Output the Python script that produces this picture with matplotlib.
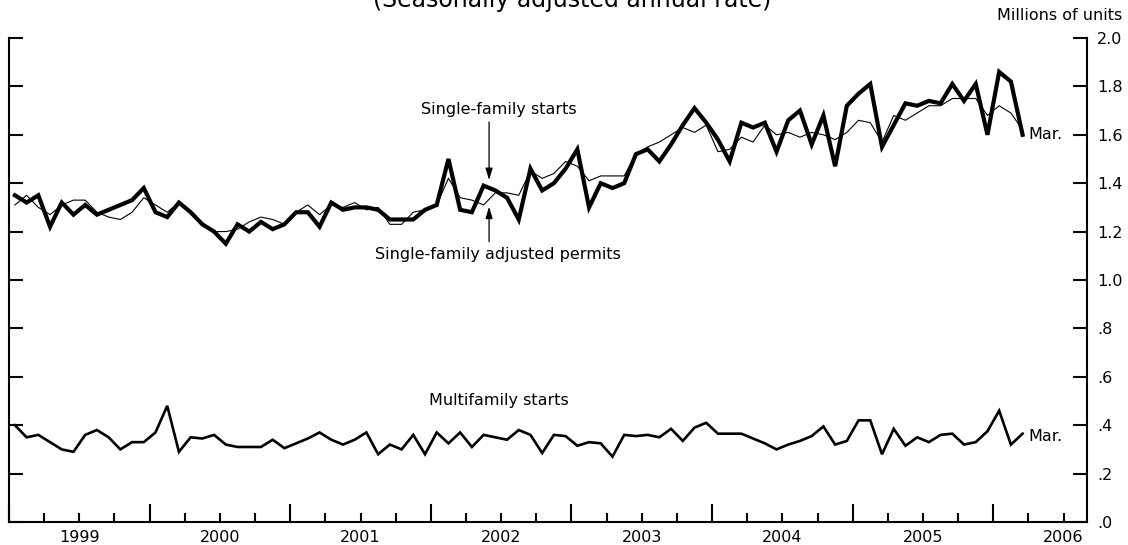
import numpy as np
import matplotlib
matplotlib.use("Agg")
import matplotlib.pyplot as plt

plt.rcParams["font.family"] = ["DejaVu Sans"]

START_YEAR = 1999  # first observation: Jan 1999, monthly through Mar 2006

sf_starts = [
    1.35, 1.32, 1.35, 1.22, 1.32, 1.27, 1.31, 1.27, 1.29, 1.31,
    1.33, 1.38, 1.28, 1.26, 1.32, 1.28, 1.23, 1.20, 1.15, 1.23,
    1.20, 1.24, 1.21, 1.23, 1.28, 1.28, 1.22, 1.32, 1.29, 1.30,
    1.30, 1.29, 1.25, 1.25, 1.25, 1.29, 1.31, 1.50, 1.29, 1.28,
    1.39, 1.37, 1.34, 1.25, 1.46, 1.37, 1.40, 1.46, 1.54, 1.30,
    1.40, 1.38, 1.40, 1.52, 1.54, 1.49, 1.56, 1.64, 1.71, 1.65,
    1.58, 1.49, 1.65, 1.63, 1.65, 1.53, 1.66, 1.70, 1.56, 1.68,
    1.47, 1.72, 1.77, 1.81, 1.55, 1.64, 1.73, 1.72, 1.74, 1.73,
    1.81, 1.74, 1.81, 1.60, 1.86, 1.82, 1.60,
]

sf_permits = [
    1.31, 1.35, 1.30, 1.27, 1.31, 1.33, 1.33, 1.28, 1.26, 1.25,
    1.28, 1.34, 1.31, 1.28, 1.32, 1.28, 1.23, 1.20, 1.20, 1.21,
    1.24, 1.26, 1.25, 1.23, 1.28, 1.31, 1.27, 1.31, 1.30, 1.32,
    1.29, 1.30, 1.23, 1.23, 1.28, 1.29, 1.31, 1.42, 1.34, 1.33,
    1.31, 1.36, 1.36, 1.35, 1.45, 1.42, 1.44, 1.49, 1.47, 1.41,
    1.43, 1.43, 1.43, 1.52, 1.55, 1.57, 1.60, 1.63, 1.61, 1.64,
    1.53, 1.54, 1.59, 1.57, 1.64, 1.60, 1.61, 1.59, 1.61, 1.60,
    1.58, 1.61, 1.66, 1.65, 1.57, 1.68, 1.66, 1.69, 1.72, 1.72,
    1.75, 1.75, 1.75, 1.68, 1.72, 1.69, 1.62,
]

mf_starts = [
    0.40, 0.35, 0.36, 0.33, 0.30, 0.29, 0.36, 0.38, 0.35, 0.30,
    0.33, 0.33, 0.37, 0.48, 0.29, 0.35, 0.345, 0.36, 0.32, 0.31,
    0.31, 0.31, 0.34, 0.305, 0.325, 0.345, 0.37, 0.34, 0.32, 0.34,
    0.37, 0.28, 0.32, 0.30, 0.36, 0.28, 0.37, 0.325, 0.37, 0.31,
    0.36, 0.35, 0.34, 0.38, 0.36, 0.285, 0.36, 0.355, 0.315, 0.33,
    0.325, 0.27, 0.36, 0.355, 0.36, 0.35, 0.385, 0.335, 0.39, 0.41,
    0.365, 0.365, 0.365, 0.345, 0.325, 0.30, 0.32, 0.335, 0.355, 0.395,
    0.32, 0.335, 0.42, 0.42, 0.28, 0.385, 0.315, 0.35, 0.33, 0.36,
    0.365, 0.32, 0.33, 0.375, 0.46, 0.32, 0.365,
]

y_ticks = [0.0, 0.2, 0.4, 0.6, 0.8, 1.0, 1.2, 1.4, 1.6, 1.8, 2.0]
y_labels = [".0", ".2", ".4", ".6", ".8", "1.0", "1.2", "1.4", "1.6", "1.8", "2.0"]
years = list(range(1999, 2007))
X_END = 2006 + 8 / 12  # axis runs to the end of Aug 2006

# monthly points sit in the middle of each month
x = START_YEAR + (np.arange(len(sf_starts)) + 0.5) / 12

fig = plt.figure(figsize=(11.28, 5.45), dpi=100)
ax = fig.add_axes([0.008, 0.0422, 0.9557, 0.8881])

ax.plot(x, sf_permits, color="black", lw=0.8, zorder=3)
ax.plot(x, sf_starts, color="black", lw=3.0, solid_joinstyle="miter", zorder=4)
ax.plot(x, mf_starts, color="black", lw=1.9, solid_joinstyle="miter", zorder=3)

for side in ["left", "right", "bottom"]:
    ax.spines[side].set_linewidth(1.5)
ax.spines["top"].set_visible(False)

# x axis: long ticks at year starts, short ones at quarters, labels mid-year
quarters = [y + q for y in years for q in (0.25, 0.5, 0.75) if y + q < X_END]
q_labels = [str(int(q)) if (q % 1) == 0.5 else "" for q in quarters]
ax.set_xticks(years, labels=[""] * len(years))
ax.set_xticks(quarters, labels=q_labels, minor=True)
ax.tick_params(axis="x", which="major", direction="in", length=13, width=1.5)
ax.tick_params(axis="x", which="minor", direction="in", length=6.5, width=1.5,
               pad=6, labelsize=11.5)

ax.set_yticks(y_ticks, labels=y_labels)
ax.set_yticks([2.0], labels=[""], minor=True)
ax.tick_params(axis="y", which="both", direction="in", left=True, right=True,
               labelleft=False, labelright=True, width=1.5)
ax.tick_params(axis="y", which="major", length=10, pad=7, labelsize=11.5)
ax.tick_params(axis="y", which="minor", length=16)

# limits last, so the tick calls cannot widen them
ax.set_xlim(1999, X_END)
ax.set_ylim(0, 2.0)

arrow = dict(arrowstyle="-|>,head_length=0.5,head_width=0.15", color="black",
             lw=0.9, shrinkA=0, shrinkB=0, mutation_scale=14)
ax.annotate("", xy=(2002.414, 1.413), xytext=(2002.414, 1.653), arrowprops=arrow)
ax.annotate("", xy=(2002.414, 1.303), xytext=(2002.414, 1.158), arrowprops=arrow)
ax.text(2002.485, 1.705, "Single-family starts", ha="center", va="center", fontsize=11.5)
ax.text(2002.474, 1.105, "Single-family adjusted permits", ha="center", va="center",
        fontsize=11.5)
ax.text(2002.485, 0.504, "Multifamily starts", ha="center", va="center", fontsize=11.5)

ax.annotate("Mar.", xy=(x[-1], sf_starts[-1]), xytext=(4, 0), textcoords="offset points",
            ha="left", va="center", fontsize=11.5)
ax.annotate("Mar.", xy=(x[-1], mf_starts[-1]), xytext=(4, -2), textcoords="offset points",
            ha="left", va="center", fontsize=11.5)

fig.text(0.507, 0.987, "(Seasonally adjusted annual rate)", ha="center", va="baseline",
         fontsize=17)
fig.text(0.9947, 0.963, "Millions of units", ha="right", va="baseline", fontsize=11.5)

fig.savefig("out.png", dpi=100)
